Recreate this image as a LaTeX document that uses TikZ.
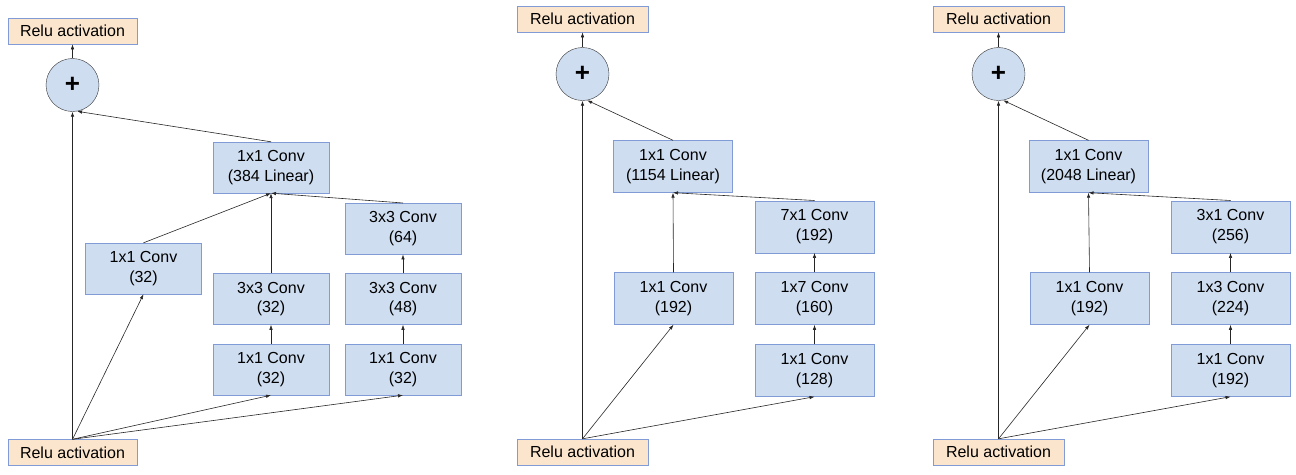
\documentclass[tikz,border=0pt]{standalone}
\usepackage{fontspec}
\setmainfont{Liberation Sans}
\usepackage{xcolor}
\usepackage{tikz}
\usetikzlibrary{positioning,arrows.meta}
\definecolor{convBlue}{RGB}{207,221,240}
\definecolor{convEdge}{RGB}{128,155,214}
\definecolor{reluPeach}{RGB}{252,229,205}

\begin{document}
\begin{tikzpicture}[x=1pt, y=-1pt,
        conv/.style={draw=convEdge, fill=convBlue, align=center, inner sep=0pt,
                     minimum width=119pt, minimum height=52pt,
                     font=\fontsize{16}{19.5}\selectfont},
        relu/.style={draw=convEdge, fill=reluPeach, inner sep=0pt,
                     minimum width=131pt, minimum height=26pt,
                     font=\fontsize{16}{18}\selectfont},
        sumnode/.style={circle, draw=black!80, fill=convBlue, inner sep=0pt,
                        minimum size=53pt, font=\fontsize{26}{26}\bfseries\selectfont},
        flow/.style={draw=black!85, line width=0.6pt, -{Latex[length=5pt,width=3.5pt]}},
        node distance=19.5pt
    ]
        \useasboundingbox (0,0) rectangle (1296,474);

        % block A
        \begin{scope}[conv/.append style={minimum width=116pt, minimum height=51pt},
                      relu/.append style={minimum width=129pt}, node distance=19pt]
        \node[relu] (inA) at (72.5,452.5) {Relu activation};
        \node[sumnode] (sumA) at (72.5,85) {+};
        \node[relu, above=14pt of sumA] (outA) {Relu activation};
        \node[conv] (linA) at (271,167.5) {1x1 Conv\\(384 Linear)};
        \node[conv] (brA1) at (143.5,268.5) {1x1 Conv\\(32)};
        \node[conv] (brA2a) at (271,369.5) {1x1 Conv\\(32)};
        \node[conv, above=of brA2a] (brA2b) {3x3 Conv\\(32)};
        \node[conv] (brA3a) at (403,369.5) {1x1 Conv\\(32)};
        \node[conv, above=of brA3a] (brA3b) {3x3 Conv\\(48)};
        \node[conv, above=of brA3b] (brA3c) {3x3 Conv\\(64)};
        \end{scope}
        \draw[flow] (inA.north) -- (sumA.south);
        \draw[flow] (inA.north) -- (brA1.south);
        \draw[flow] (inA.north) -- (brA2a.south);
        \draw[flow] (inA.north) -- (brA3a.south);
        \draw[flow] (brA2a) -- (brA2b);
        \draw[flow] (brA3a) -- (brA3b);
        \draw[flow] (brA3b) -- (brA3c);
        \draw[flow] (brA1.north) -- (linA.south);
        \draw[flow] (brA2b) -- (linA);
        \draw[flow] (brA3c.north) -- (linA.south);
        \draw[flow] (linA.north) -- (sumA.-80);
        \draw[flow] (sumA) -- (outA);

        % block B
        \node[relu] (inB) at (582.5,452) {Relu activation};
        \node[sumnode] (sumB) at (582.5,74) {+};
        \node[relu, above=15pt of sumB] (outB) {Relu activation};
        \node[conv] (linB) at (673,166.5) {1x1 Conv\\(1154 Linear)};
        \node[conv] (brB1) at (673.5,298.5) {1x1 Conv\\(192)};
        \node[conv] (brB2a) at (814.5,370.5) {1x1 Conv\\(128)};
        \node[conv, above=of brB2a] (brB2b) {1x7 Conv\\(160)};
        \node[conv, above=of brB2b] (brB2c) {7x1 Conv\\(192)};
        \draw[flow] (inB.north) -- (sumB.south);
        \draw[flow] (inB.north) -- (brB1.south);
        \draw[flow] (inB.north) -- (brB2a.south);
        \draw[flow] (brB2a) -- (brB2b);
        \draw[flow] (brB2b) -- (brB2c);
        \draw[flow] (brB1.north) -- (linB.south);
        \draw[flow] (brB2c.north) -- (linB.south);
        \draw[flow] (linB.north) -- (sumB.-80);
        \draw[flow] (sumB) -- (outB);

        % block C
        \node[relu] (inC) at (998.5,452) {Relu activation};
        \node[sumnode] (sumC) at (998.5,74) {+};
        \node[relu, above=15pt of sumC] (outC) {Relu activation};
        \node[conv] (linC) at (1088.5,166.5) {1x1 Conv\\(2048 Linear)};
        \node[conv] (brC1) at (1089.5,298.5) {1x1 Conv\\(192)};
        \node[conv] (brC2a) at (1230.5,370.5) {1x1 Conv\\(192)};
        \node[conv, above=of brC2a] (brC2b) {1x3 Conv\\(224)};
        \node[conv, above=of brC2b] (brC2c) {3x1 Conv\\(256)};
        \draw[flow] (inC.north) -- (sumC.south);
        \draw[flow] (inC.north) -- (brC1.south);
        \draw[flow] (inC.north) -- (brC2a.south);
        \draw[flow] (brC2a) -- (brC2b);
        \draw[flow] (brC2b) -- (brC2c);
        \draw[flow] (brC1.north) -- (linC.south);
        \draw[flow] (brC2c.north) -- (linC.south);
        \draw[flow] (linC.north) -- (sumC.-80);
        \draw[flow] (sumC) -- (outC);
    \end{tikzpicture}
\end{document}
